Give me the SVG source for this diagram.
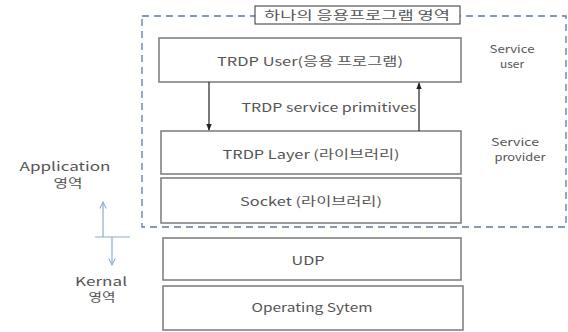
<svg xmlns="http://www.w3.org/2000/svg" width="568" height="332" viewBox="0 0 568 332">
<defs>
<style>
.box{fill:#fff;stroke:#7a7a7a;stroke-width:1.5}
.t{font-family:"Noto Sans CJK KR","Malgun Gothic",sans-serif;font-size:12px;fill:#555;text-anchor:middle}
.s{font-size:11px}
.dash{fill:none;stroke:#5b7ba3;stroke-width:1.3;stroke-dasharray:7,5}
.con{stroke:#222;stroke-width:1.2;fill:none}
.blue{stroke:#8eaad0;stroke-width:1.2;fill:none}
</style>
<marker id="ah" viewBox="0 0 10 10" refX="9" refY="5" markerWidth="7" markerHeight="7" orient="auto-start-reverse" markerUnits="userSpaceOnUse">
<path d="M0,1 L10,5 L0,9 z" fill="#222"/>
</marker>
<marker id="ob" viewBox="0 0 10 10" refX="9" refY="5" markerWidth="8" markerHeight="8" orient="auto" markerUnits="userSpaceOnUse">
<path d="M1,1 L9,5 L1,9" fill="none" stroke="#8eaad0" stroke-width="1.3"/>
</marker>
</defs>
<rect width="568" height="332" fill="#fff"/>
<g id="app-region">
<rect class="dash" x="142" y="16" width="424" height="211"/>
<rect x="255" y="6" width="205" height="18" fill="#fff" stroke="#333" stroke-width="1"/>
<text class="t" x="357" y="19.5" textLength="186" lengthAdjust="spacingAndGlyphs">하나의 응용프로그램 영역</text>
</g>
<g id="trdp-user">
<rect class="box" x="159" y="38" width="302" height="44"/>
<text class="t" x="310" y="66" textLength="186" lengthAdjust="spacingAndGlyphs">TRDP User(응용 프로그램)</text>
</g>
<g id="trdp-layer">
<rect class="box" x="161" y="131" width="300" height="43"/>
<text class="t" x="311" y="159" textLength="177" lengthAdjust="spacingAndGlyphs">TRDP Layer (라이브러리)</text>
</g>
<g id="socket">
<rect class="box" x="161" y="178" width="300" height="45"/>
<text class="t" x="311" y="206" textLength="142" lengthAdjust="spacingAndGlyphs">Socket (라이브러리)</text>
</g>
<g id="udp">
<rect class="box" x="163" y="238" width="298" height="42"/>
<text class="t" x="308" y="265" textLength="33" lengthAdjust="spacingAndGlyphs">UDP</text>
</g>
<g id="os">
<rect class="box" x="163" y="286" width="300" height="44"/>
<text class="t" x="312" y="312" textLength="121" lengthAdjust="spacingAndGlyphs">Operating Sytem</text>
</g>
<g id="labels">
<text class="t s" x="512" y="53" textLength="45" lengthAdjust="spacingAndGlyphs">Service</text>
<text class="t s" x="512" y="68" textLength="24" lengthAdjust="spacingAndGlyphs">user</text>
<text class="t s" x="515" y="146" textLength="48" lengthAdjust="spacingAndGlyphs">Service</text>
<text class="t s" x="520" y="161" textLength="51" lengthAdjust="spacingAndGlyphs">provider</text>
<text class="t" x="65" y="171" textLength="91" lengthAdjust="spacingAndGlyphs">Application</text>
<text class="t" x="68" y="188" textLength="29" lengthAdjust="spacingAndGlyphs">영역</text>
<text class="t" x="101" y="286" textLength="52" lengthAdjust="spacingAndGlyphs">Kernal</text>
<text class="t" x="102" y="302" textLength="27" lengthAdjust="spacingAndGlyphs">영역</text>
</g>
<g id="connectors">
<line class="con" x1="209" y1="82" x2="209" y2="130" marker-end="url(#ah)"/>
<line class="con" x1="419" y1="131" x2="419" y2="83" marker-end="url(#ah)"/>
<text class="t" x="329" y="112" textLength="175" lengthAdjust="spacingAndGlyphs">TRDP service primitives</text>
<line class="blue" x1="95" y1="237" x2="130" y2="237"/>
<line class="blue" x1="103" y1="237" x2="103" y2="202" marker-end="url(#ob)"/>
<line class="blue" x1="112" y1="237" x2="112" y2="265" marker-end="url(#ob)"/>
</g>
</svg>
